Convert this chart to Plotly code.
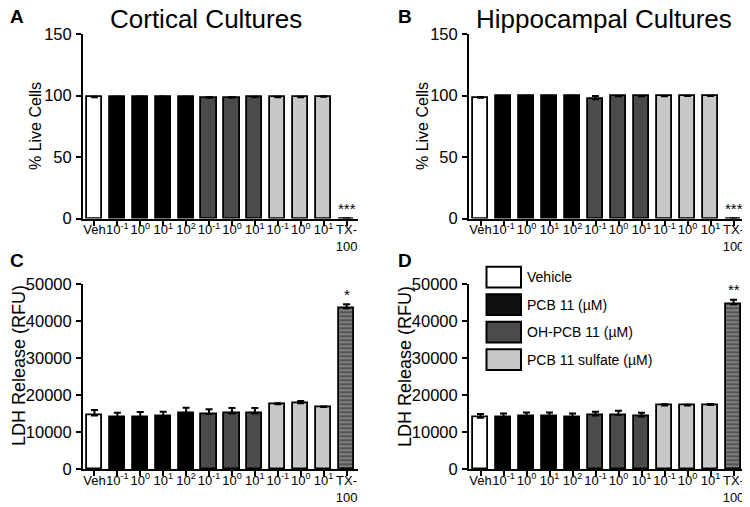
import plotly.graph_objects as go

# The page body has an 8px margin, so the figure is drawn offset by (8, 8).
OX, OY = 8, 8
W, H = 750, 507
FW, FH = W - OX, H - OY
FONT = "Liberation Sans, Arial, sans-serif"

# ---------------- data ----------------
categories = ["Veh", "10<sup>-1</sup>", "10<sup>0</sup>", "10<sup>1</sup>", "10<sup>2</sup>",
              "10<sup>-1</sup>", "10<sup>0</sup>", "10<sup>1</sup>",
              "10<sup>-1</sup>", "10<sup>0</sup>", "10<sup>1</sup>", "TX-<br>100"]
groups = ["Vehicle", "PCB", "PCB", "PCB", "PCB", "OH", "OH", "OH", "SULF", "SULF", "SULF", "TX"]

live_cortical = [98.6, 98.6, 98.9, 98.9, 98.6, 98.2, 98.2, 98.5, 98.6, 98.6, 99.0, 0]
live_cortical_err = [0.4, 0.3, 0.3, 0.3, 0.4, 0.5, 0.5, 0.4, 0.4, 0.4, 0.3, 0]
live_hippo = [98.1, 99.3, 99.5, 99.5, 99.5, 97.0, 99.3, 99.3, 99.3, 99.5, 99.5, 0]
live_hippo_err = [0.6, 0.3, 0.3, 0.3, 0.3, 2.5, 0.3, 0.3, 0.3, 0.3, 0.3, 0]

ldh_cortical = [14500, 14050, 14100, 14200, 15000, 14900, 15000, 15000, 17500, 17800, 16800, 43500]
ldh_cortical_err = [1500, 1200, 1300, 1300, 1600, 1300, 1500, 1500, 300, 600, 100, 1100]
ldh_hippo = [13900, 13950, 14200, 14200, 14100, 14500, 14600, 14200, 17200, 17200, 17300, 44600]
ldh_hippo_err = [1000, 1050, 1100, 1100, 900, 1000, 1200, 1000, 300, 200, 300, 1200]

legend_labels = ["Vehicle", "PCB 11 (µM)", "OH-PCB 11 (µM)", "PCB 11 sulfate (µM)"]
legend_groups = ["Vehicle", "PCB", "OH", "SULF"]

sig_live = "***"
sig_ldh_cortical = "*"
sig_ldh_hippo = "**"

# ---------------- styles ----------------
group_color = {"Vehicle": "#ffffff", "PCB": "#000000", "OH": "#4b4b4b",
               "SULF": "#c8c8c8", "TX": "#555555"}
colors = [group_color[g] for g in groups]
pattern_shapes = ["-" if g == "TX" else "" for g in groups]
xpos = list(range(len(categories)))


def px(x):
    return (x - OX) / FW


def py(y):
    return 1 - (y - OY) / FH


fig = go.Figure()


def add_bars(vals, errs, xa, ya):
    fig.add_trace(go.Bar(
        x=xpos, y=vals, width=0.66,
        marker=dict(color=colors, line=dict(color="black", width=1.8),
                    pattern=dict(shape=pattern_shapes, fgcolor="#dcdcdc",
                                 size=4, solidity=0.25)),
        error_y=dict(type="data", symmetric=False, array=errs,
                     arrayminus=[0] * len(errs), color="black",
                     thickness=2, width=3.5),
        xaxis=xa, yaxis=ya, showlegend=False, hoverinfo="skip"))


add_bars(live_cortical, live_cortical_err, "x", "y")
add_bars(live_hippo, live_hippo_err, "x2", "y2")
add_bars(ldh_cortical, ldh_cortical_err, "x3", "y3")
add_bars(ldh_hippo, ldh_hippo_err, "x4", "y4")

axis_common = dict(showline=True, linewidth=2, linecolor="black", ticks="outside",
                   ticklen=5, tickwidth=2, tickcolor="black", showgrid=False,
                   zeroline=False, mirror=False, automargin=False)
xcommon = dict(axis_common, range=[-0.5, 11.5], tickmode="array", tickvals=xpos,
               ticktext=categories, tickangle=0, ticklabelstandoff=-7,
               tickfont=dict(family=FONT, size=13, color="black"))
ycommon = dict(axis_common, tickformat="d", ticklabelstandoff=1,
               tickfont=dict(family=FONT, size=16.5, color="black"))

top_dom = [py(218.5), py(34)]
bot_dom = [py(469), py(284.3)]

fig.update_layout(
    width=FW, height=FH, margin=dict(l=0, r=0, t=0, b=0, autoexpand=False),
    paper_bgcolor="white", plot_bgcolor="white", bargap=0,
    xaxis=dict(xcommon, domain=[px(83), px(358)], anchor="y"),
    yaxis=dict(ycommon, domain=top_dom, range=[0, 150], tickvals=[0, 50, 100, 150], anchor="x"),
    xaxis2=dict(xcommon, domain=[px(469), px(745)], anchor="y2"),
    yaxis2=dict(ycommon, domain=top_dom, range=[0, 150], tickvals=[0, 50, 100, 150], anchor="x2"),
    xaxis3=dict(xcommon, domain=[px(83), px(358)], anchor="y3"),
    yaxis3=dict(ycommon, domain=bot_dom, range=[0, 50000],
                tickvals=[0, 10000, 20000, 30000, 40000, 50000], anchor="x3"),
    xaxis4=dict(xcommon, domain=[px(469), px(745)], anchor="y4"),
    yaxis4=dict(ycommon, domain=bot_dom, range=[0, 50000],
                tickvals=[0, 10000, 20000, 30000, 40000, 50000], anchor="x4"),
)

ann = []


def paper_text(text, x, y, size, bold=False, xanchor="center", yanchor="middle", angle=0):
    ann.append(dict(text=("<b>%s</b>" % text) if bold else text, x=px(x), y=py(y),
                    xref="paper", yref="paper", showarrow=False, xanchor=xanchor,
                    yanchor=yanchor, textangle=angle,
                    font=dict(family=FONT, size=size, color="black")))


# panel letters
paper_text("A", 17, 16, 19, bold=True)
paper_text("B", 405, 16, 19, bold=True)
paper_text("C", 17, 261, 19, bold=True)
paper_text("D", 405, 261, 19, bold=True)

# titles
paper_text("Cortical Cultures", 206, 19, 26)
paper_text("Hippocampal Cultures", 604, 19, 26)

# y-axis titles
paper_text("% Live Cells", 35, 126, 16, angle=-90)
paper_text("% Live Cells", 422, 126, 16, angle=-90)
paper_text("LDH Release (RFU)", 19, 366, 18, angle=-90)
paper_text("LDH Release (RFU)", 405, 366, 18, angle=-90)

# significance marks
for xa, ya, txt, yv in [("x", "y", sig_live, 8), ("x2", "y2", sig_live, 8),
                        ("x3", "y3", sig_ldh_cortical, 47300), ("x4", "y4", sig_ldh_hippo, 48700)]:
    ann.append(dict(text=txt, x=xpos[-1], y=yv, xref=xa, yref=ya, showarrow=False,
                    font=dict(family=FONT, size=15, color="black")))

# legend (drawn manually in panel D)
shapes = []
box_tops = [266.7, 294.2, 321.7, 349.2]
for lab, g, top in zip(legend_labels, legend_groups, box_tops):
    shapes.append(dict(type="rect", xref="paper", yref="paper",
                       x0=px(486.5), x1=px(521), y0=py(top + 20.8), y1=py(top),
                       line=dict(color="black", width=2),
                       fillcolor=group_color[g] if g != "PCB" else "#111111"))
    paper_text(lab, 524.5, top + 10.4, 14, xanchor="left")

fig.update_layout(annotations=ann, shapes=shapes)
fig.write_html("out.html")
